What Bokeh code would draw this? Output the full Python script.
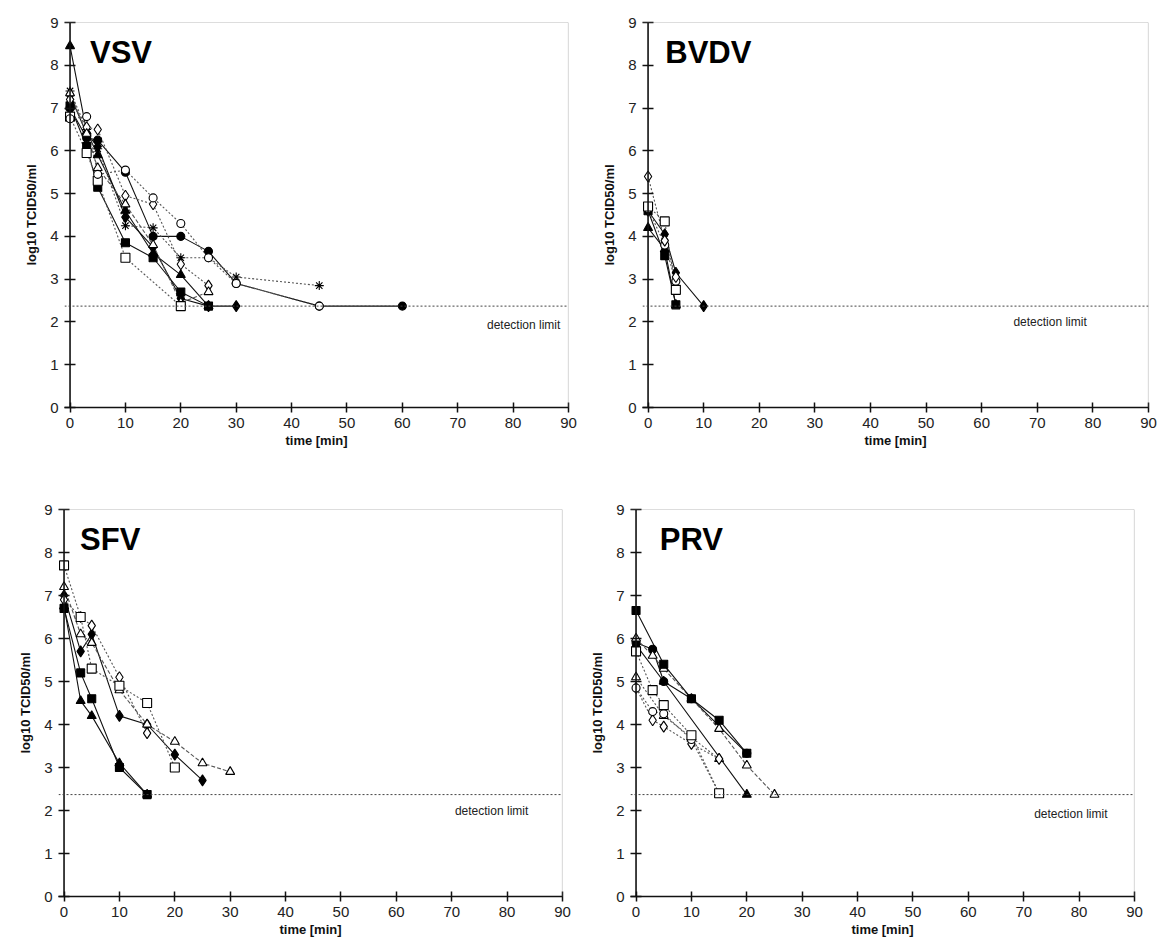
from bokeh.plotting import figure
from bokeh.layouts import column, row
from bokeh.models import Span, Range1d, FixedTicker
from bokeh.core.properties import value
from bokeh.embed import file_html
from bokeh.resources import INLINE

FONT = "Liberation Sans"

X_TICKS = [0, 10, 20, 30, 40, 50, 60, 70, 80, 90]
Y_TICKS = [0, 1, 2, 3, 4, 5, 6, 7, 8, 9]
DETECTION_LIMIT = 2.37

# ---------------- VSV ----------------
vsv_ftri_t = [0, 3, 5, 10, 15, 20, 25]
vsv_ftri_v = [8.45, 6.45, 5.9, 4.6, 3.6, 3.1, 2.37]
vsv_fsq_t = [0, 3, 5, 10, 15, 20, 25]
vsv_fsq_v = [7.05, 6.1, 5.15, 3.85, 3.5, 2.7, 2.37]
vsv_fcirc_t = [0, 3, 5, 10, 15, 20, 25, 30, 45, 60]
vsv_fcirc_v = [7.0, 6.3, 6.25, 5.5, 4.0, 4.0, 3.65, 2.9, 2.37, 2.37]
vsv_fdia_t = [0, 3, 5, 10, 15, 20, 25, 30]
vsv_fdia_v = [7.3, 6.4, 6.1, 4.45, 3.75, 2.55, 2.37, 2.37]
vsv_star_t = [0, 3, 5, 10, 15, 20, 25, 30, 45]
vsv_star_v = [7.4, 6.5, 6.05, 4.25, 4.2, 3.5, 3.5, 3.05, 2.85]
vsv_ocirc_t = [0, 3, 5, 10, 15, 20, 25, 30, 45]
vsv_ocirc_v = [6.75, 6.8, 5.45, 5.55, 4.9, 4.3, 3.5, 2.9, 2.37]
vsv_odia_t = [0, 3, 5, 10, 15, 20, 25]
vsv_odia_v = [7.2, 6.55, 6.5, 4.95, 4.75, 3.35, 2.85]
vsv_otri_t = [0, 3, 5, 10, 15, 20, 25]
vsv_otri_v = [7.35, 6.4, 5.6, 4.75, 3.8, 2.45, 2.7]
vsv_osq_t = [0, 3, 5, 10, 20]
vsv_osq_v = [6.8, 5.95, 5.3, 3.5, 2.37]

# ---------------- BVDV ----------------
bvdv_ftri_t = [0, 3, 5]
bvdv_ftri_v = [4.2, 3.7, 2.4]
bvdv_fsq_t = [0, 3, 5]
bvdv_fsq_v = [4.6, 3.55, 2.4]
bvdv_fdia_t = [0, 3, 5, 10]
bvdv_fdia_v = [4.6, 4.05, 3.15, 2.37]
bvdv_osq_t = [0, 3, 5]
bvdv_osq_v = [4.7, 4.35, 2.75]
bvdv_odia_t = [0, 3, 5]
bvdv_odia_v = [5.4, 3.9, 3.05]
bvdv_ocirc_t = [0, 3, 5]
bvdv_ocirc_v = [4.65, 3.8, 2.95]

# ---------------- SFV ----------------
sfv_fsq_t = [0, 3, 5, 10, 15]
sfv_fsq_v = [6.7, 5.2, 4.6, 3.0, 2.37]
sfv_ftri_t = [0, 3, 5, 10, 15]
sfv_ftri_v = [6.75, 4.55, 4.2, 3.1, 2.37]
sfv_fdia_t = [0, 3, 5, 10, 15, 20, 25]
sfv_fdia_v = [7.0, 5.7, 6.1, 4.2, 4.0, 3.3, 2.7]
sfv_osq_t = [0, 3, 5, 10, 15, 20]
sfv_osq_v = [7.7, 6.5, 5.3, 4.9, 4.5, 3.0]
sfv_otri_t = [0, 3, 5, 10, 15, 20, 25, 30]
sfv_otri_v = [7.2, 6.1, 5.9, 4.8, 4.0, 3.6, 3.1, 2.9]
sfv_odia_t = [0, 3, 5, 10, 15]
sfv_odia_v = [6.9, 6.5, 6.3, 5.1, 3.8]

# ---------------- PRV ----------------
prv_fsq_t = [0, 5, 10, 15, 20]
prv_fsq_v = [6.65, 5.4, 4.6, 4.1, 3.33]
prv_fcirc_t = [0, 3, 5, 10, 20]
prv_fcirc_v = [5.9, 5.75, 5.0, 4.6, 3.33]
prv_ftri_t = [0, 5, 20]
prv_ftri_v = [5.85, 5.0, 2.37]
prv_otri_t = [0, 3, 5, 10, 15, 20, 25]
prv_otri_v = [6.0, 5.6, 5.3, 4.6, 3.9, 3.05, 2.37]
prv_otri2_t = [0, 5, 10, 15]
prv_otri2_v = [5.1, 4.2, 3.7, 3.2]
prv_odia_t = [0, 3, 5, 10, 15]
prv_odia_v = [4.85, 4.1, 3.95, 3.55, 3.2]
prv_ocirc_t = [0, 3, 5, 10, 15]
prv_ocirc_v = [4.85, 4.3, 4.25, 3.65, 2.4]
prv_osq_t = [0, 3, 5, 10, 15]
prv_osq_v = [5.7, 4.8, 4.45, 3.75, 2.4]

# style per series kind: marker, fill, size, line_dash
STYLES = {
    "ftri": ("triangle", "black", 9, "solid"),
    "fsq": ("square", "black", 8, "solid"),
    "fcirc": ("circle", "black", 8, "solid"),
    "fdia": ("diamond", "black", 11, "solid"),
    "star": ("asterisk", "black", 9, "2 2"),
    "ocirc": ("circle", "white", 8, "2 2"),
    "odia": ("diamond", "white", 11, "2 2"),
    "otri": ("triangle", "white", 9, "4 2"),
    "otri2": ("triangle", "white", 9, "2 2"),
    "osq": ("square", "white", 9, "2 2"),
}

VSV = [("fsq", vsv_fsq_t, vsv_fsq_v), ("ftri", vsv_ftri_t, vsv_ftri_v),
       ("fcirc", vsv_fcirc_t, vsv_fcirc_v), ("fdia", vsv_fdia_t, vsv_fdia_v),
       ("star", vsv_star_t, vsv_star_v), ("odia", vsv_odia_t, vsv_odia_v),
       ("otri", vsv_otri_t, vsv_otri_v), ("osq", vsv_osq_t, vsv_osq_v),
       ("ocirc", vsv_ocirc_t, vsv_ocirc_v)]
BVDV = [("ftri", bvdv_ftri_t, bvdv_ftri_v), ("fsq", bvdv_fsq_t, bvdv_fsq_v),
        ("fdia", bvdv_fdia_t, bvdv_fdia_v), ("ocirc", bvdv_ocirc_t, bvdv_ocirc_v),
        ("odia", bvdv_odia_t, bvdv_odia_v), ("osq", bvdv_osq_t, bvdv_osq_v)]
SFV = [("ftri", sfv_ftri_t, sfv_ftri_v), ("fsq", sfv_fsq_t, sfv_fsq_v),
       ("fdia", sfv_fdia_t, sfv_fdia_v), ("odia", sfv_odia_t, sfv_odia_v),
       ("otri", sfv_otri_t, sfv_otri_v), ("osq", sfv_osq_t, sfv_osq_v)]
PRV = [("ftri", prv_ftri_t, prv_ftri_v), ("fcirc", prv_fcirc_t, prv_fcirc_v),
       ("otri", prv_otri_t, prv_otri_v), ("otri2", prv_otri2_t, prv_otri2_v),
       ("odia", prv_odia_t, prv_odia_v), ("ocirc", prv_ocirc_t, prv_ocirc_v),
       ("osq", prv_osq_t, prv_osq_v), ("fsq", prv_fsq_t, prv_fsq_v)]


def style_axis(ax):
    ax.axis_line_color = "#111"
    ax.axis_line_width = 1.6
    ax.major_tick_line_color = "#111"
    ax.major_tick_line_width = 1.5
    ax.major_tick_in = 5
    ax.major_tick_out = 5
    ax.minor_tick_line_color = None
    ax.major_label_text_font = FONT
    ax.major_label_text_font_size = "15px"
    ax.major_label_text_color = "#222"
    ax.axis_label_text_font = FONT
    ax.axis_label_text_font_size = "13px"
    ax.axis_label_text_font_style = "bold"
    ax.axis_label_text_color = "#111"


def panel(title, series, bl, br, bt, bb, fw, fh, title_x, dl_x, dl_y):
    p = figure(frame_width=fw, frame_height=fh, min_border_left=bl, min_border_right=br,
               min_border_top=bt, min_border_bottom=bb,
               x_range=Range1d(-1, 90), y_range=Range1d(0, 9),
               output_backend="svg", toolbar_location=None, tools="")
    p.outline_line_color = None
    p.background_fill_color = "white"
    p.border_fill_color = "white"
    p.xgrid.visible = False
    p.ygrid.visible = False

    xa = p.xaxis[0]
    style_axis(xa)
    xa.ticker = FixedTicker(ticks=X_TICKS)
    xa.axis_label = "time [min]"
    xa.major_label_standoff = 5
    xa.axis_label_standoff = 2

    # y axis at the frame edge (x=-1); its ticks reach across the x=0 axis line
    ya = p.yaxis[0]
    style_axis(ya)
    ya.ticker = FixedTicker(ticks=Y_TICKS)
    ya.axis_line_color = None
    ya.major_tick_in = 11
    ya.major_tick_out = 0
    ya.major_label_standoff = 6
    ya.axis_label = "log10 TCID50/ml"
    ya.axis_label_standoff = 8

    # the y axis line itself at x=0
    p.add_layout(Span(location=0, dimension="height", line_color="#111", line_width=1.6))
    p.add_layout(Span(location=9, dimension="width", line_color="#777",
                      line_dash="1 1", line_width=1.2))
    p.add_layout(Span(location=90, dimension="height", line_color="#777",
                      line_dash="1 1", line_width=1.2))
    p.add_layout(Span(location=DETECTION_LIMIT, dimension="width", line_color="#444",
                      line_dash="2 2", line_width=1))

    p.text(x=[title_x], y=[8.3], text=[title], text_font=value(FONT),
           text_font_size="31px", text_font_style="bold", text_baseline="middle",
           text_color="black")
    p.text(x=[dl_x], y=[dl_y], text=["detection limit"], text_font=value(FONT),
           text_font_size="12px", text_align="center", text_baseline="middle",
           text_color="#222")

    for kind, t, v in series:
        marker, fill, size, dash = STYLES[kind]
        if dash == "solid":
            p.line(t, v, line_color="#111", line_width=1.1)
        else:
            p.line(t, v, line_color="#555", line_width=1.1, line_dash=dash)
    for kind, t, v in series:
        marker, fill, size, dash = STYLES[kind]
        p.scatter(t, v, marker=marker, size=size, fill_color=fill,
                  line_color="black", line_width=1.1)
    return p


tl = panel("VSV", VSV, 64, 10, 22, 57, 504, 385, 3.6, 81.9, 1.92)
tr = panel("BVDV", BVDV, 64, 12, 22, 57, 506, 385, 3.1, 72.3, 2.0)
bl = panel("SFV", SFV, 58, 10, 45, 52, 504, 387, 2.9, 77.2, 2.0)
br = panel("PRV", PRV, 58, 26, 45, 52, 504, 387, 4.3, 78.5, 1.93)

layout = column(row(tl, tr), row(bl, br))
open("out.html", "w").write(file_html(layout, INLINE))
